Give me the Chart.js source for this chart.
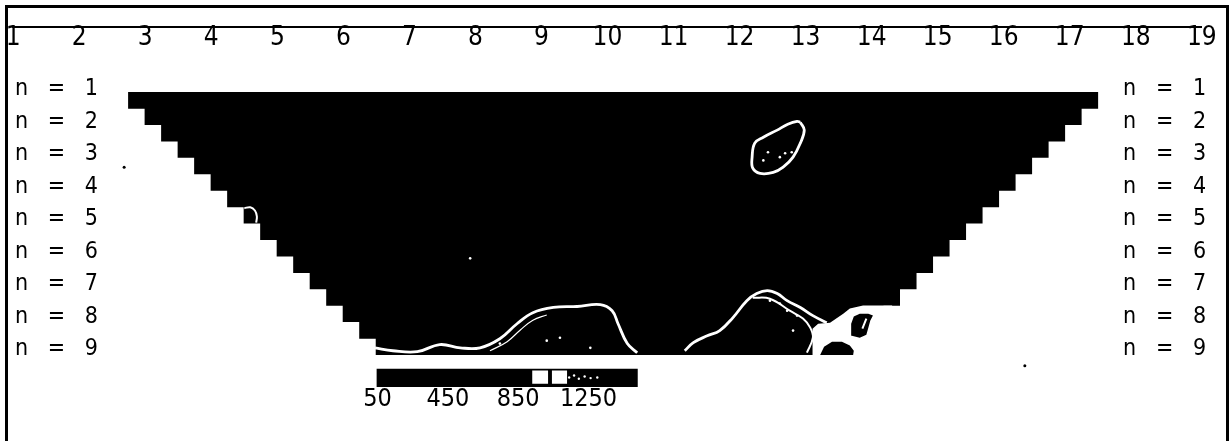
<!DOCTYPE html>
<html>
<head>
<meta charset="utf-8">
<script src="https://cdn.jsdelivr.net/npm/chart.js@4.4.1/dist/chart.umd.min.js"></script>
<style>
  body { margin: 0; background: #fff; }
  #wrap { position: relative; width: 1231px; height: 441px; }
  #marco { position: absolute; left: 5px; top: 5px; width: 1224px; height: 440px;
           box-sizing: border-box; border: 3px solid #000; border-bottom: none; pointer-events: none; }
</style>
</head>
<body>
<div id="wrap">
  <canvas id="seccion" width="1231" height="441"></canvas>
  <div id="marco"></div>
</div>
<script>
// DATOS: electrodos, niveles n y bordes de la seudoseccion
const electrodos = [1, 2, 3, 4, 5, 6, 7, 8, 9, 10, 11, 12, 13, 14, 15, 16, 17, 18, 19];
const nivelesN = [1, 2, 3, 4, 5, 6, 7, 8, 9];
const profEscalon = [1.09, 1.60, 2.10, 2.61, 3.11, 3.62, 4.12, 4.63, 5.13, 5.64, 6.14, 6.65, 7.15, 7.66, 8.16, 8.67, 9.17];
const bordeIzq = [2.74, 2.99, 3.24, 3.49, 3.74, 3.99, 4.24, 4.49, 4.74, 4.99, 5.24, 5.49, 5.74, 5.99, 6.24, 6.49];
const bordeDer = [17.43, 17.18, 16.93, 16.68, 16.43, 16.18, 15.93, 15.68, 15.43, 15.18, 14.93, 14.68, 14.43, 14.18, 13.93, 13.68];

// CONTORNOS (x en electrodos, n en niveles)
const ovaloX = [12.92, 12.98, 12.92, 12.81, 12.66, 12.51, 12.31, 12.20, 12.19, 12.23, 12.36, 12.57, 12.73, 12.87, 12.92];
const ovaloN = [2.02, 2.26, 2.66, 3.09, 3.40, 3.56, 3.59, 3.43, 3.09, 2.66, 2.48, 2.26, 2.08, 1.99, 2.02];
const lomaIzqX = [6.48, 6.75, 7.12, 7.46, 7.77, 8.07, 8.37, 8.63, 8.87, 9.18, 9.54, 9.89, 10.07, 10.16, 10.30, 10.45];
const lomaIzqN = [8.95, 9.04, 9.07, 8.85, 8.95, 8.95, 8.67, 8.21, 7.87, 7.71, 7.68, 7.62, 7.81, 8.21, 8.82, 9.10];
const lomaIzq2X = [8.22, 8.48, 8.68, 8.87, 9.08];
const lomaIzq2N = [9.04, 8.76, 8.40, 8.10, 7.94];
const lomaDerX = [11.17, 11.30, 11.51, 11.70, 11.90, 12.11, 12.26, 12.42, 12.57, 12.72, 12.92, 13.11, 13.32];
const lomaDerN = [9.04, 8.79, 8.58, 8.42, 8.02, 7.50, 7.28, 7.19, 7.28, 7.50, 7.71, 7.96, 8.18];
const lomaDer2X = [12.20, 12.46, 12.76, 12.96, 13.07, 13.11, 13.02];
const lomaDer2N = [7.41, 7.44, 7.81, 8.05, 8.33, 8.64, 9.10];
const sillaX = [13.10, 13.11, 13.10, 13.19, 13.37, 13.57, 13.67, 13.87, 14.13, 14.31, 14.31, 13.10];
const sillaN = [9.17, 8.67, 8.36, 8.21, 8.18, 7.90, 7.74, 7.65, 7.65, 7.65, 9.17, 9.17];
const manchaX = [13.22, 13.28, 13.40, 13.55, 13.67, 13.73, 13.72, 13.22];
const manchaN = [9.17, 8.92, 8.76, 8.76, 8.88, 9.04, 9.17, 9.17];
const ojoX = [13.70, 13.69, 13.73, 13.82, 13.95, 14.02, 13.98, 13.95, 13.92, 13.82, 13.70];
const ojoN = [8.58, 8.21, 7.99, 7.90, 7.90, 7.96, 8.11, 8.33, 8.55, 8.64, 8.58];
const rayaOjoX = [13.92, 13.86];
const rayaOjoN = [8.05, 8.36];
const arcoX = [4.50, 4.59, 4.66, 4.69, 4.68];
const arcoN = [4.66, 4.63, 4.73, 4.91, 5.10];
const puntosBlancosX = [7.92, 12.36, 12.43, 12.61, 12.69, 12.79, 12.46, 12.61, 12.72, 12.87, 12.81, 9.08, 9.28, 9.74, 8.37];
const puntosBlancosN = [6.20, 3.19, 2.94, 3.09, 2.97, 2.94, 7.50, 7.59, 7.81, 7.96, 8.42, 8.73, 8.64, 8.95, 8.82];
const puntosNegrosX = [16.32, 2.68];
const puntosNegrosN = [9.50, 3.40];

// ESCALA DE COLORES (ohm-m)
const escalaTicks = [50, 450, 850, 1250];
const escalaRango = [45, 1530];
const escalaBanda = [9.59, 10.15];
const escalaBlancos = [[930, 1020], [1042, 1128]];
const escalaPuntosX = [1140, 1168, 1195, 1228, 1262, 1300];
const escalaPuntosN = [9.86, 9.80, 9.90, 9.83, 9.88, 9.86];

const fuente = "'Liberation Sans Narrow', 'DejaVu Sans Condensed', 'Liberation Sans', sans-serif";

const unir = (xs, ns) => xs.map((x, i) => ({ x, y: ns[i] }));

// POLIGONO ESCALONADO DE LA SECCION
const poligonoSeccion = () => {
  const pts = [];
  bordeIzq.forEach((x, k) => {
    pts.push({ x, y: profEscalon[k] }, { x, y: profEscalon[k + 1] });
  });
  for (let k = bordeDer.length - 1; k >= 0; k--) {
    pts.push({ x: bordeDer[k], y: profEscalon[k + 1] }, { x: bordeDer[k], y: profEscalon[k] });
  }
  pts.push(pts[0]);
  return pts;
};

const rectangulo = (x0, x1, y0, y1) => [
  { x: x0, y: y0 }, { x: x1, y: y0 }, { x: x1, y: y1 }, { x: x0, y: y1 }, { x: x0, y: y0 }
];

const forma = (data, color, order, extra = {}) => ({
  data, showLine: true, fill: 'shape', backgroundColor: color,
  borderWidth: 0, pointRadius: 0, tension: 0, order, ...extra
});
const curva = (data, ancho, order) => ({
  data, showLine: true, fill: false, borderColor: '#fff', borderWidth: ancho,
  pointRadius: 0, tension: 0.4, order
});
const puntos = (data, color, radio, order, extra = {}) => ({
  data, showLine: false, pointRadius: radio, pointBackgroundColor: color,
  pointBorderWidth: 0, order, ...extra
});

const sinRelleno = (s) => {
  s.paddingLeft = 0; s.paddingRight = 0; s.paddingTop = 0; s.paddingBottom = 0;
};

const datasets = [
  forma(poligonoSeccion(), '#000', 20),
  forma(unir(sillaX, sillaN), '#fff', 12),
  forma(unir(manchaX, manchaN), '#000', 11),
  forma(unir(ojoX, ojoN), '#000', 10),
  curva(unir(rayaOjoX, rayaOjoN), 2, 5),
  curva(unir(ovaloX, ovaloN), 2.8, 5),
  curva(unir(lomaIzqX, lomaIzqN), 2.8, 5),
  curva(unir(lomaIzq2X, lomaIzq2N), 1.2, 5),
  curva(unir(lomaDerX, lomaDerN), 2.8, 5),
  curva(unir(lomaDer2X, lomaDer2N), 2, 5),
  curva(unir(arcoX, arcoN), 2, 5),
  puntos(unir(puntosBlancosX, puntosBlancosN), '#fff', 1.3, 4),
  puntos(unir(puntosNegrosX, puntosNegrosN), '#000', 1.5, 4),
  forma(rectangulo(escalaRango[0], escalaRango[1], escalaBanda[0], escalaBanda[1]), '#000', 20, { xAxisID: 'x2' }),
  ...escalaBlancos.map(([a, b]) => forma(rectangulo(a, b, 9.65, 10.05), '#fff', 15, { xAxisID: 'x2' })),
  puntos(unir(escalaPuntosX, escalaPuntosN), '#fff', 1.2, 4, { xAxisID: 'x2' })
];

// EJES DE NIVELES n (izquierda y derecha)
const ejeN = (posX) => ({
  type: 'linear', axis: 'y', reverse: true, min: -0.97, max: 11.69,
  position: { x: posX },
  grid: { display: false, drawTicks: false },
  border: { display: false },
  afterBuildTicks: (s) => { s.ticks = nivelesN.map((v) => ({ value: v })); },
  afterFit: sinRelleno,
  ticks: {
    color: '#000', padding: 0, autoSkip: false,
    font: { family: fuente, size: 23, lineHeight: 1 },
    callback: (v) => 'n   =   ' + v
  }
});

new Chart(document.getElementById('seccion'), {
  type: 'scatter',
  data: { datasets },
  options: {
    responsive: false,
    animation: false,
    events: [],
    layout: { padding: { left: 13.2, right: 29.2, top: 25, bottom: 0 } },
    plugins: { legend: { display: false }, tooltip: { enabled: false } },
    scales: {
      x: {
        type: 'linear', min: 1, max: 19,
        position: { y: -0.92 },
        grid: { display: false, drawTicks: false },
        border: { display: true, color: '#000', width: 2 },
        afterBuildTicks: (s) => { s.ticks = electrodos.map((v) => ({ value: v })); },
        afterFit: sinRelleno,
        ticks: {
          color: '#000', padding: -1.5, autoSkip: false, maxRotation: 0, minRotation: 0,
          font: { family: fuente, size: 26, lineHeight: 1 },
          callback: (v) => String(v)
        }
      },
      x2: {
        type: 'linear', axis: 'x', min: -2021.9, max: 4738,
        position: { y: 10.15 },
        grid: { display: false, drawTicks: false },
        border: { display: false },
        afterBuildTicks: (s) => { s.ticks = escalaTicks.map((v) => ({ value: v })); },
        afterFit: sinRelleno,
        ticks: {
          color: '#000', padding: 0, autoSkip: false, maxRotation: 0, minRotation: 0,
          font: { family: fuente, size: 25, lineHeight: 1 },
          callback: (v) => String(v)
        }
      },
      y: ejeN(2.284),
      y2: ejeN(19.065)
    }
  }
});
</script>
</body>
</html>
